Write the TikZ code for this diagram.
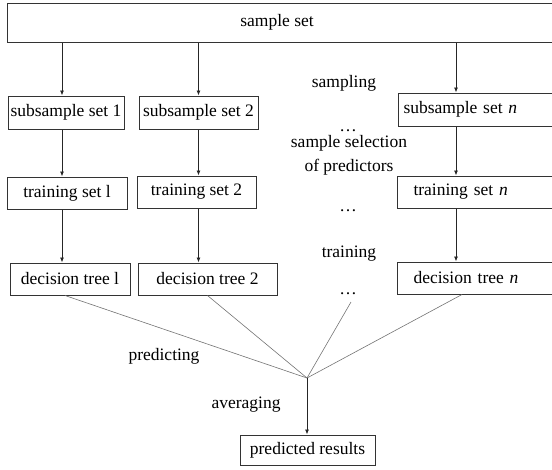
\documentclass[tikz,border=0pt]{standalone}
\usepackage{fontspec}
\setmainfont{Liberation Serif}
\newfontfamily\timesfont{Liberation Serif}
\usetikzlibrary{arrows.meta}

\begin{document}
\begin{tikzpicture}[x=1pt, y=-1pt,
  box/.style={draw=black!80, line width=1pt, inner sep=0pt, font=\timesfont\fontsize{17.5}{21}\selectfont},
  lbl/.style={inner sep=0pt, font=\timesfont\fontsize{17.5}{24}\selectfont, align=center},
  arr/.style={draw=black!85, line width=0.8pt, -{Latex[length=5pt, width=4pt]}},
  feed/.style={draw=black!55, line width=0.6pt}]

\clip (0,0) rectangle (552,469);
\useasboundingbox (0,0) rectangle (552,469);

% boxes
\node[box, anchor=north west, minimum width=560pt, minimum height=39pt] (sample) at (7,3) {};
\node[lbl] at (277,22) {sample set};

\node[box, minimum width=116pt, minimum height=33pt] (sub1) at (66,112.5) {subsample set 1};
\node[box, minimum width=119pt, minimum height=33pt] (sub2) at (198.5,112.5) {subsample set 2};
\node[box, anchor=west, align=left, text width=160pt, inner xsep=5pt, minimum height=33pt] (subn) at (398,109.5) {subsample set \emph{n}};

\node[box, minimum width=120pt, minimum height=32pt] (train1) at (67,193) {training set l};
\node[box, minimum width=119pt, minimum height=32pt] (train2) at (196.5,192) {training set 2};
\node[box, anchor=west, align=left, text width=160pt, inner xsep=16pt, minimum height=32pt] (trainn) at (397,192) {training set \emph{n}};

\node[box, minimum width=120pt, minimum height=32pt] (tree1) at (70,279) {decision tree l};
\node[box, minimum width=139pt, minimum height=32pt] (tree2) at (207.5,279) {decision tree 2};
\node[box, anchor=west, align=left, text width=160pt, inner xsep=16pt, minimum height=32pt] (treen) at (397,278) {decision tree \emph{n}};

\node[box, minimum width=135pt, minimum height=30pt] (result) at (307.5,450) {predicted results};

% labels
\node[lbl, anchor=base] (sampling) at (344,87) {sampling};
\node[lbl, anchor=base] (dots1) at (348,131) {\dots};
\node[lbl, anchor=base] (selection) at (349,171) {sample selection\\of predictors};
\node[lbl, anchor=base] (dots2) at (348,211) {\dots};
\node[lbl, anchor=base] (training) at (349,257) {training};
\node[lbl, anchor=base] (dots3) at (348,294) {\dots};
\node[lbl, anchor=base] (predicting) at (164,360) {predicting};
\node[lbl, anchor=base] (averaging) at (246,408) {averaging};

% columns
\coordinate (c1) at (62,0);
\coordinate (c2) at (198.5,0);
\coordinate (cn) at (456,0);
\coordinate (join) at (307,378);

\foreach \c/\a/\b/\d in {c1/sub1/train1/tree1, c2/sub2/train2/tree2, cn/subn/trainn/treen} {
  \draw[arr] (\c |- sample.south) -- (\c |- \a.north);
  \draw[arr] (\c |- \a.south) -- (\c |- \b.north);
  \draw[arr] (\c |- \b.south) -- (\c |- \d.north);
}

% predicting
\draw[feed] ([xshift=-5pt]tree1.south) -- (join);
\draw[feed] (tree2.south) -- (join);
\draw[feed] (351,302) -- (join);
\draw[feed] (cn |- treen.south) ++(6,0) -- (join);
\draw[arr] (join) -- (join |- result.north);

\end{tikzpicture}
\end{document}
